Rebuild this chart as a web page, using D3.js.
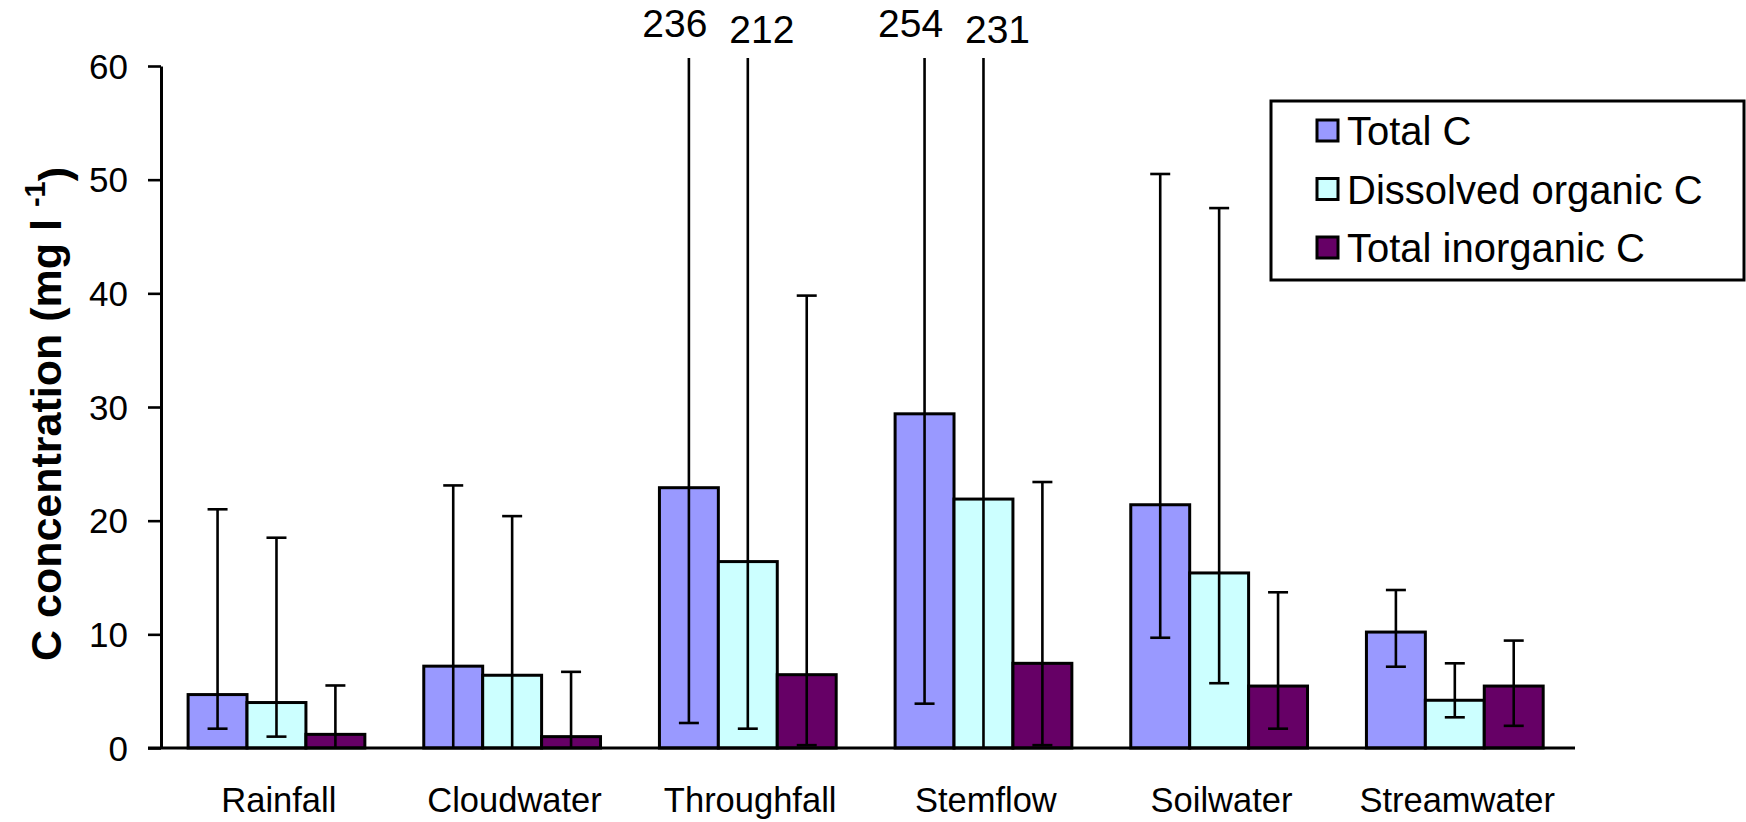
<!DOCTYPE html>
<html>
<head>
<meta charset="utf-8">
<script src="https://cdn.jsdelivr.net/npm/d3@7"></script>
<style>
  html, body { margin: 0; padding: 0; background: #fff; }
  svg { display: block; font-family: "Liberation Sans", Arial, sans-serif; }
</style>
</head>
<body>
<div id="chart"></div>
<script>
// C concentrations by water type, means with min/max error bars
const categories = ['Rainfall', 'Cloudwater', 'Throughfall', 'Stemflow', 'Soilwater', 'Streamwater'];
const seriesNames = ['Total C', 'Dissolved organic C', 'Total inorganic C'];
const seriesColors = ['#9999ff', '#ccffff', '#660066'];

const totalC = [4.7, 7.2, 22.9, 29.4, 21.4, 10.2];
const docC = [4.0, 6.4, 16.4, 21.9, 15.4, 4.2];
const ticC = [1.2, 1.0, 6.45, 7.45, 5.45, 5.45];

// error bar lower / upper ends (null = runs down to the axis, no cap shown)
const totalLow = [1.7, null, 2.2, 3.9, 9.7, 7.15];
const totalHigh = [21.0, 23.1, 236, 254, 50.5, 13.9];
const docLow = [1.0, null, 1.7, null, 5.7, 2.7];
const docHigh = [18.5, 20.4, 212, 231, 47.5, 7.45];
const ticLow = [null, null, 0.25, 0.25, 1.7, 1.95];
const ticHigh = [5.5, 6.7, 39.8, 23.4, 13.7, 9.45];

const yTicks = [0, 10, 20, 30, 40, 50, 60];

(function () {
  'use strict';

  const W = 1746, H = 822;
  const margin = { top: 66, right: 171, bottom: 74, left: 161 };
  const innerW = W - margin.left - margin.right;
  const innerH = H - margin.top - margin.bottom;

  const values = [totalC, docC, ticC];
  const lows = [totalLow, docLow, ticLow];
  const highs = [totalHigh, docHigh, ticHigh];

  const rows = [];
  categories.forEach((c, ci) => {
    seriesNames.forEach((s, si) => {
      rows.push({ cat: c, ser: s, si, v: values[si][ci], lo: lows[si][ci], hi: highs[si][ci] });
    });
  });

  const svg = d3.select('#chart').append('svg').attr('width', W).attr('height', H);
  const g = svg.append('g').attr('transform', `translate(${margin.left},${margin.top})`);

  const x0 = d3.scaleBand().domain(categories).range([0, innerW]).padding(0);
  const x1 = d3.scaleBand().domain(seriesNames)
    .range([x0.bandwidth() * 0.115, x0.bandwidth() * 0.865]).padding(0);
  const y = d3.scaleLinear().domain([0, 60]).range([innerH, 0]);
  const yMax = y.domain()[1];

  // bars
  g.selectAll('.bar').data(rows).enter().append('rect')
    .attr('class', 'bar')
    .attr('x', d => x0(d.cat) + x1(d.ser))
    .attr('y', d => y(d.v))
    .attr('width', x1.bandwidth())
    .attr('height', d => y(0) - y(d.v))
    .attr('fill', d => seriesColors[d.si])
    .attr('stroke', '#000')
    .attr('stroke-width', 3);

  // error bars
  const capW = 20;
  const eb = g.selectAll('.err').data(rows).enter().append('g').attr('class', 'err')
    .attr('transform', d => `translate(${x0(d.cat) + x1(d.ser) + x1.bandwidth() / 2},0)`)
    .attr('stroke', '#000').attr('stroke-width', 2.6);
  eb.append('line')
    .attr('y1', d => d.hi > yMax ? y(yMax) - 8 : y(d.hi))
    .attr('y2', d => d.lo == null ? y(0) : y(d.lo));
  eb.filter(d => d.hi <= yMax).append('line')
    .attr('x1', -capW / 2).attr('x2', capW / 2)
    .attr('y1', d => y(d.hi)).attr('y2', d => y(d.hi));
  eb.filter(d => d.lo != null).append('line')
    .attr('x1', -capW / 2).attr('x2', capW / 2)
    .attr('y1', d => y(d.lo)).attr('y2', d => y(d.lo));

  // labels for off-scale upper values
  const off = rows.filter(d => d.hi > yMax);
  g.selectAll('.offlbl').data(off).enter().append('text')
    .attr('x', d => x0(d.cat) + x1(d.ser) + x1.bandwidth() / 2 + (d.si === 0 ? -14 : 14))
    .attr('y', d => d.si === 0 ? -29 : -23)
    .attr('text-anchor', 'middle')
    .style('font-size', '39px')
    .text(d => d.hi);

  // y axis
  const yAxis = g.append('g')
    .call(d3.axisLeft(y).tickValues(yTicks).tickSize(13).tickSizeOuter(0).tickPadding(20));
  yAxis.select('.domain').attr('stroke-width', 3);
  yAxis.selectAll('.tick line').attr('stroke-width', 2.6);
  yAxis.selectAll('.tick text').style('font-size', '35px').attr('fill', '#000').attr('dy', '0.35em');

  // x axis
  const xAxis = g.append('g').attr('transform', `translate(0,${innerH})`)
    .call(d3.axisBottom(x0).tickSize(0).tickPadding(40));
  xAxis.select('.domain').attr('stroke-width', 3).attr('d', `M-13,0H${innerW}`);
  xAxis.selectAll('.tick text').style('font-size', '34.5px').attr('fill', '#000');

  // y title
  const yt = svg.append('text')
    .attr('transform', `translate(61,${margin.top + innerH / 2 + 7}) rotate(-90)`)
    .attr('text-anchor', 'middle')
    .style('font-size', '43px').style('font-weight', 'bold');
  yt.append('tspan').text('C concentration (mg l ');
  yt.append('tspan').attr('dy', '-0.55em').style('font-size', '29px').text('-1');
  yt.append('tspan').attr('dy', '0.55em').text(')');

  // legend
  const lg = svg.append('g').attr('transform', 'translate(1271,101)');
  lg.append('rect').attr('width', 473).attr('height', 179)
    .attr('fill', '#fff').attr('stroke', '#000').attr('stroke-width', 3);
  const item = lg.selectAll('.li').data(seriesNames).enter().append('g')
    .attr('transform', (d, i) => `translate(46,${29 + i * 58.5})`);
  item.append('rect').attr('x', 0).attr('y', -10).attr('width', 21).attr('height', 21)
    .attr('fill', (d, i) => seriesColors[i]).attr('stroke', '#000').attr('stroke-width', 3);
  item.append('text').attr('x', 30).attr('y', 15)
    .style('font-size', '40px').text(d => d);
})();
</script>
</body>
</html>
